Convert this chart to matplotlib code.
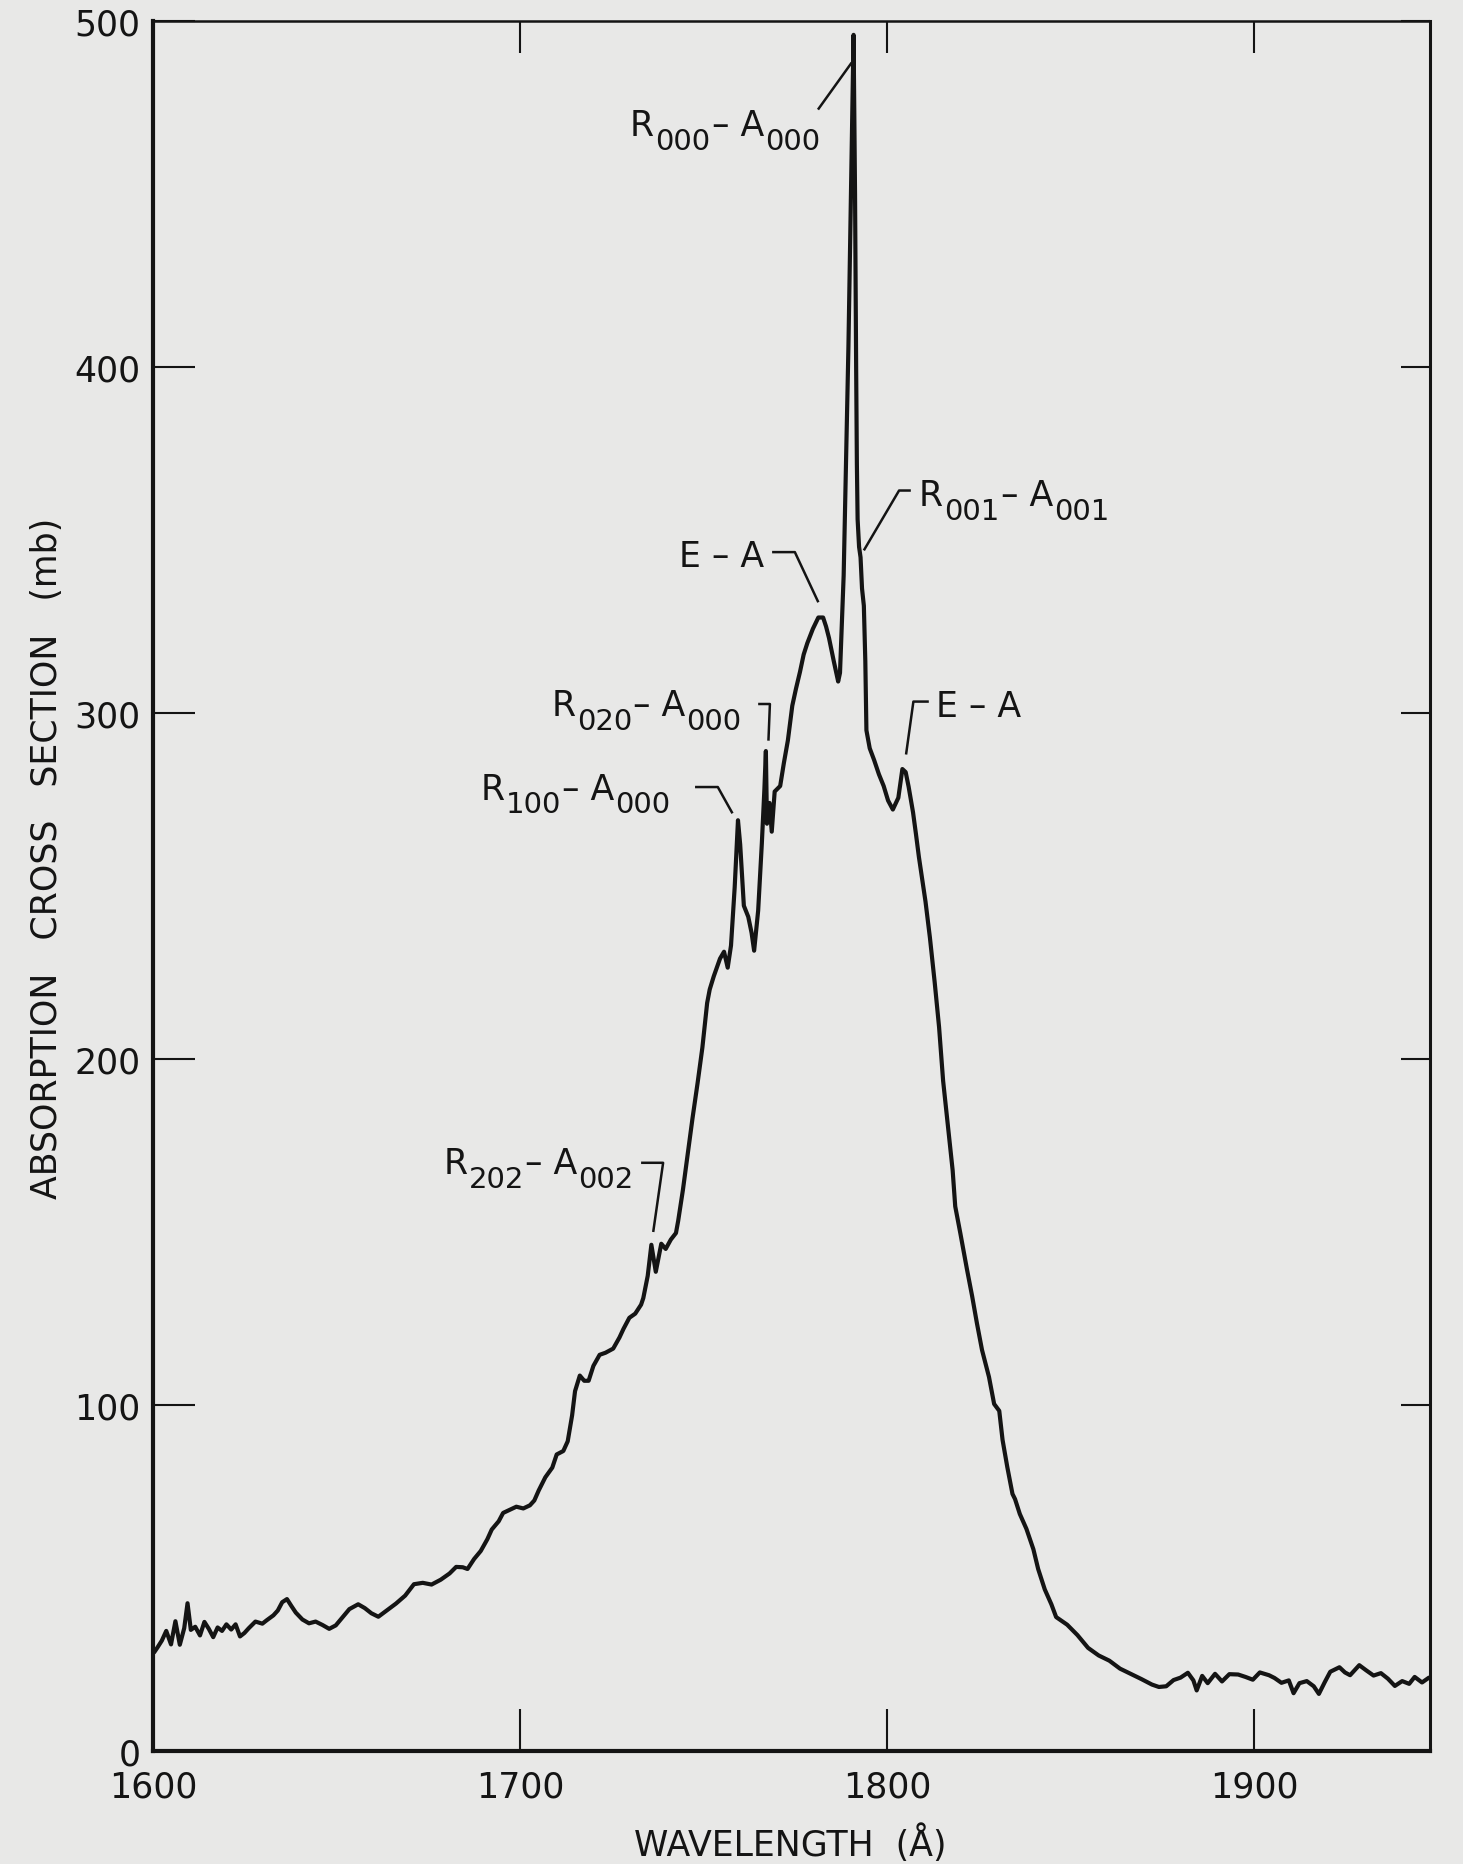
import matplotlib
matplotlib.use("Agg")
import matplotlib.pyplot as plt

plt.rcParams['font.family'] = ['DejaVu Sans']

# Absorption spectrum: wavelength (Angstrom) and cross section (mb)
wavelength = [
    1600.3, 1601.2, 1602.4, 1603.6, 1604.9, 1606.1, 1607.3, 1608.5, 1609.4, 1610.3,
    1611.5, 1612.8, 1614.0, 1615.2, 1616.4, 1617.6, 1618.8, 1620.0, 1621.3, 1622.5,
    1623.7, 1624.9, 1626.1, 1627.9, 1629.8, 1631.0, 1632.8, 1634.0, 1635.2, 1636.5,
    1637.7, 1638.9, 1640.7, 1642.5, 1644.3, 1646.2, 1648.0, 1649.8, 1651.6, 1653.5,
    1655.9, 1657.7, 1659.5, 1661.4, 1663.8, 1666.2, 1668.7, 1671.1, 1673.5, 1675.9,
    1678.4, 1680.8, 1682.6, 1684.4, 1685.7, 1687.5, 1689.3, 1691.1, 1692.3, 1694.2,
    1695.4, 1697.2, 1699.0, 1700.9, 1702.7, 1703.9, 1705.1, 1706.9, 1708.8, 1710.0,
    1711.8, 1713.0, 1714.2, 1715.0, 1716.3, 1717.5, 1718.7, 1720.0, 1721.7, 1723.3,
    1725.4, 1727.1, 1728.2, 1729.8, 1731.4, 1733.0, 1733.6, 1734.2, 1734.8, 1735.8,
    1737.0, 1738.5, 1739.7, 1741.1, 1742.5, 1743.1, 1744.4, 1745.7, 1747.0, 1748.4,
    1749.7, 1751.0, 1751.7, 1752.8, 1754.5, 1755.6, 1756.6, 1757.5, 1758.5, 1759.4,
    1760.0, 1760.5, 1761.0, 1762.2, 1763.1, 1763.8, 1764.9, 1765.9, 1766.6, 1767.0,
    1767.3, 1768.0, 1768.6, 1769.4, 1770.9, 1771.9, 1773.0, 1774.2, 1775.2, 1776.3,
    1777.3, 1778.3, 1779.8, 1781.3, 1782.6, 1783.4, 1784.2, 1785.5, 1786.7, 1787.2,
    1788.2, 1789.5, 1790.5, 1790.9, 1791.3, 1791.6, 1791.8, 1792.0, 1792.4, 1792.8,
    1793.2, 1793.7, 1794.1, 1794.4, 1795.3, 1796.5, 1797.8, 1799.1, 1800.3, 1801.6,
    1803.1, 1804.2, 1805.1, 1805.9, 1807.1, 1807.9, 1808.7, 1810.5, 1811.7, 1813.0,
    1814.2, 1815.3, 1816.6, 1817.9, 1818.6, 1820.0, 1821.8, 1823.2, 1824.5, 1825.9,
    1827.8, 1829.2, 1830.6, 1831.5, 1832.8, 1834.2, 1834.9, 1836.2, 1838.0, 1839.9,
    1841.2, 1843.0, 1844.8, 1846.1, 1849.1, 1851.9, 1854.8, 1857.7, 1860.6, 1863.5,
    1866.4, 1869.3, 1872.2, 1874.1, 1876.1, 1878.1, 1880.0, 1882.0, 1883.5, 1884.4,
    1885.9, 1887.4, 1889.4, 1891.3, 1893.3, 1895.7, 1897.7, 1899.7, 1901.6, 1904.1,
    1905.6, 1907.5, 1909.5, 1910.8, 1912.4, 1914.4, 1916.3, 1917.7, 1919.3, 1920.8,
    1923.3, 1924.8, 1926.2, 1928.7, 1930.6, 1932.6, 1934.6, 1936.5, 1938.4, 1940.4,
    1942.3, 1943.8, 1945.8, 1947.7,
]

cross_section = [
    28.5, 29.9, 31.9, 34.7, 30.8, 37.5, 30.7, 35.5, 42.7, 35.0,
    35.9, 33.4, 37.3, 35.3, 32.9, 35.7, 34.7, 36.6, 35.1, 36.6,
    33.1, 34.1, 35.5, 37.4, 36.8, 37.8, 39.2, 40.6, 43.0, 43.9,
    41.9, 40.0, 38.0, 36.9, 37.4, 36.4, 35.3, 36.3, 38.6, 41.0,
    42.4, 41.3, 39.8, 38.8, 40.7, 42.6, 44.9, 48.2, 48.6, 48.1,
    49.5, 51.3, 53.2, 53.1, 52.6, 55.5, 57.8, 61.2, 64.0, 66.4,
    68.8, 69.7, 70.6, 70.1, 71.0, 72.4, 75.3, 79.1, 81.9, 85.7,
    86.7, 89.5, 97.0, 104.0, 108.5, 107.0, 107.0, 111.3, 114.5, 115.1,
    116.3, 119.5, 122.0, 125.2, 126.4, 129.0, 130.9, 134.1, 137.3, 146.3,
    138.5, 146.6, 145.1, 147.8, 149.7, 153.2, 162.2, 172.5, 182.8, 193.1,
    203.3, 216.2, 220.1, 223.9, 229.0, 231.0, 226.4, 232.8, 249.6, 269.0,
    262.0, 253.4, 244.3, 241.1, 236.5, 231.3, 242.9, 262.3, 278.0, 289.0,
    268.0, 274.0, 265.7, 277.3, 278.9, 285.5, 292.1, 302.1, 307.0, 311.9,
    316.9, 320.2, 324.3, 327.6, 327.6, 325.0, 321.7, 315.0, 309.1, 311.6,
    339.8, 406.0, 470.0, 496.0, 450.0, 400.0, 372.0, 356.0, 348.0, 345.0,
    336.0, 331.0, 315.0, 295.0, 289.8, 286.4, 282.3, 278.9, 274.7, 272.1,
    275.5, 283.8, 282.9, 278.7, 271.3, 265.0, 258.4, 245.5, 235.1, 222.2,
    209.2, 193.7, 180.7, 167.8, 157.4, 149.6, 139.2, 131.5, 123.7, 115.9,
    108.1, 100.3, 98.3, 89.9, 82.0, 74.3, 72.8, 68.5, 64.2, 58.3,
    52.6, 46.7, 42.4, 38.7, 36.5, 33.5, 29.8, 27.6, 26.1, 23.8,
    22.3, 20.8, 19.2, 18.5, 18.7, 20.5, 21.2, 22.6, 20.4, 17.5,
    21.7, 19.6, 22.3, 20.1, 22.2, 22.1, 21.4, 20.6, 22.7, 21.9,
    21.1, 19.7, 20.4, 16.7, 19.6, 20.2, 18.7, 16.5, 19.9, 22.9,
    24.2, 22.7, 21.9, 24.8, 23.3, 21.8, 22.5, 20.9, 18.8, 20.2,
    19.4, 21.4, 19.8, 21.2,
]

x_ticks = [1600, 1700, 1800, 1900]
y_ticks = [0, 100, 200, 300, 400, 500]

# Band assignments; each label is a list of (text, is_subscript) pieces
band_labels = [
    [('R', False), ('000', True), ('– A', False), ('000', True)],
    [('E – A', False)],
    [('R', False), ('001', True), ('– A', False), ('001', True)],
    [('E – A', False)],
    [('R', False), ('020', True), ('– A', False), ('000', True)],
    [('R', False), ('100', True), ('– A', False), ('000', True)],
    [('R', False), ('202', True), ('– A', False), ('002', True)],
]
# Left-baseline anchor of each label, in data units
label_anchor = [
    (1730.0, 467.0),
    (1743.2, 342.4),
    (1808.7, 360.1),
    (1813.3, 299.1),
    (1708.6, 299.4),
    (1689.2, 275.2),
    (1679.1, 167.0),
]
# Leader line from each label to its feature, in data units
leader = [
    [(1781.2, 474.4), (1790.4, 488.0)],
    [(1768.7, 346.5), (1774.9, 346.5), (1781.3, 332.0)],
    [(1806.5, 364.3), (1803.3, 364.3), (1793.7, 347.0)],
    [(1811.4, 303.3), (1807.2, 303.3), (1805.2, 288.0)],
    [(1764.9, 302.6), (1768.1, 302.6), (1767.7, 292.0)],
    [(1747.7, 278.6), (1753.9, 278.6), (1757.9, 271.0)],
    [(1733.0, 170.0), (1739.0, 170.0), (1736.3, 150.0)],
]

paper = '#e8e8e7'
ink = '#141414'
FS_MAIN = 25
FS_SUB = 21
SUB_DROP = 9  # points


def draw_band_label(ax, x, y, pieces):
    """Write a label piece by piece so subscripts stay large and dropped."""
    first_txt, _ = pieces[0]
    first = ax.text(x, y, first_txt, fontsize=FS_MAIN, color=ink,
                    ha='left', va='baseline', zorder=4)
    prev = first
    for txt, is_sub in pieces[1:]:
        prev = ax.annotate(
            txt, xy=(1, 0), xycoords=(prev, first),
            xytext=(0.8, -SUB_DROP if is_sub else 0), textcoords='offset points',
            fontsize=FS_SUB if is_sub else FS_MAIN, color=ink,
            ha='left', va='bottom', annotation_clip=False, zorder=4)


fig = plt.figure(figsize=(14.63, 18.65), dpi=100, facecolor=paper)
ax = fig.add_axes([0.1046, 0.0606, 0.8729, 0.9276], facecolor=paper)

ax.plot(wavelength, cross_section, color=ink, lw=3.0, solid_joinstyle='round',
        solid_capstyle='round', zorder=3)

ax.set_xlim(1600, 1948)
ax.set_ylim(0, 500)

ax.set_xticks(x_ticks)
ax.set_xticklabels([str(t) for t in x_ticks])
ax.set_yticks(y_ticks)
ax.set_yticklabels([str(t) for t in y_ticks])

ax.tick_params(axis='x', direction='in', length=30, width=1.5, color=ink,
               labelsize=25, pad=13, labelcolor=ink, top=False)
ax.tick_params(axis='y', direction='in', length=30, width=1.5, color=ink,
               labelsize=25, pad=9, labelcolor=ink, right=False)

top = ax.secondary_xaxis('top')
top.set_xticks(x_ticks)
top.tick_params(direction='in', length=23, width=1.5, color=ink, labeltop=False)
top.spines['top'].set_visible(False)

right = ax.secondary_yaxis('right')
right.set_yticks(y_ticks)
right.tick_params(direction='in', length=21, width=1.5, color=ink, labelright=False)
right.spines['right'].set_visible(False)

ax.spines['left'].set_linewidth(3.0)
ax.spines['bottom'].set_linewidth(3.0)
ax.spines['top'].set_linewidth(1.8)
ax.spines['right'].set_linewidth(2.2)
for s in ax.spines.values():
    s.set_color(ink)

for pieces, (lx, ly), path in zip(band_labels, label_anchor, leader):
    draw_band_label(ax, lx, ly, pieces)
    xs = [p[0] for p in path]
    ys = [p[1] for p in path]
    ax.plot(xs, ys, color=ink, lw=1.8, solid_capstyle='butt', zorder=4)

fig.text(0.032, 0.54, 'ABSORPTION   CROSS   SECTION   (mb)', rotation=90,
         ha='center', va='center', fontsize=25, color=ink)
fig.text(0.54, 0.0115, 'WAVELENGTH  (Å)', ha='center', va='center',
         fontsize=25, color=ink)

fig.savefig('out.png', dpi=100, facecolor=paper)
